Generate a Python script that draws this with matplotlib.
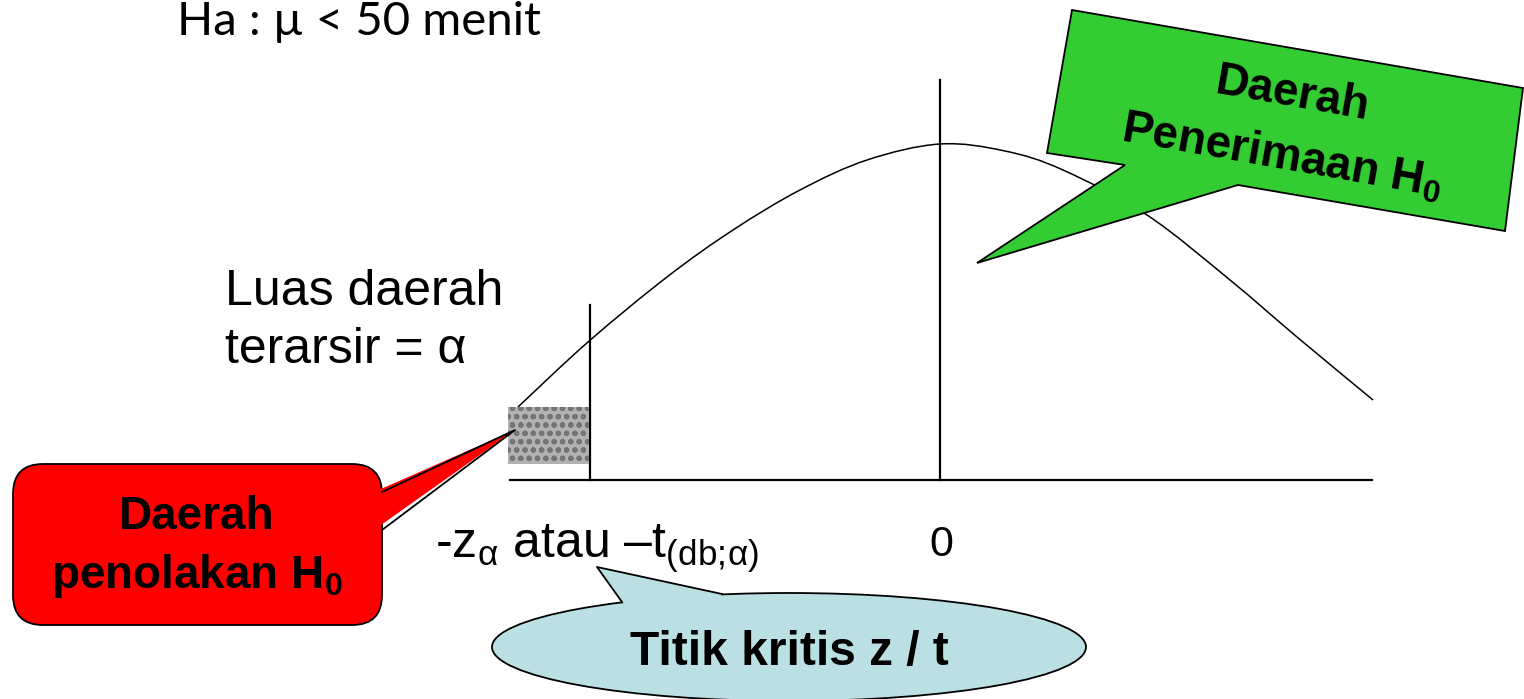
import matplotlib
matplotlib.use("Agg")
import matplotlib.pyplot as plt
from matplotlib.patches import Polygon, FancyBboxPatch, Ellipse, Rectangle, PathPatch
from matplotlib.path import Path

plt.rcParams['font.family'] = ['Liberation Sans', 'DejaVu Sans']
plt.rcParams['mathtext.fontset'] = 'custom'
plt.rcParams['mathtext.rm'] = 'Liberation Sans'
plt.rcParams['mathtext.bf'] = 'Liberation Sans:bold'
plt.rcParams['mathtext.default'] = 'regular'
plt.rcParams['hatch.linewidth'] = 1.5

# ===== данные (координаты в пикселях картинки, y вниз) =====
curve_x = [518, 588, 667, 733, 800, 867, 940, 1005, 1063, 1147, 1230, 1297, 1373]
curve_y = [407, 342, 277, 230, 190, 160, 144, 151, 170, 215, 280, 337, 400]

base_x = [510, 1372]
base_y = 480
zero_x = 940
zero_top = 80
crit_x = 590
crit_top = 305
shade = (508, 407, 81, 57)   # x, y, w, h

top_text = "Ha : µ < 50 menit"
area_text = ["Luas daerah", "terarsir = α"]
crit_label = r"-z$_{α}$ atau –t$_{(db;\!α)}$"
zero_label = "0"
reject_text = ["Daerah", r"penolakan H$_\mathbf{0}$"]
accept_text = ["Daerah", r"Penerimaan H$_\mathbf{0}$"]
point_text = "Titik kritis z / t"

green_poly = [(1072, 10), (1523, 88), (1505, 231), (1238, 185),
              (977, 263), (1125, 165), (1047, 153)]

# ===== рисунок =====
fig = plt.figure(figsize=(15.24, 6.99), dpi=100)
ax = fig.add_axes([0, 0, 1, 1])
ax.set_xlim(0, 1524)
ax.set_ylim(699, 0)
ax.axis('off')

# гладкая кривая через точки (безье, касательные как у Catmull-Rom)
pts = list(zip(curve_x, curve_y))
verts = [pts[0]]
codes = [Path.MOVETO]
for i in range(len(pts) - 1):
    p0 = pts[max(i - 1, 0)]
    p1 = pts[i]
    p2 = pts[i + 1]
    p3 = pts[min(i + 2, len(pts) - 1)]
    c1 = (p1[0] + (p2[0] - p0[0]) / 6, p1[1] + (p2[1] - p0[1]) / 6)
    c2 = (p2[0] - (p3[0] - p1[0]) / 6, p2[1] - (p3[1] - p1[1]) / 6)
    verts += [c1, c2, p2]
    codes += [Path.CURVE4] * 3
ax.add_patch(PathPatch(Path(verts, codes), facecolor='none',
                       edgecolor='black', lw=1.1, zorder=2))

ax.plot(base_x, [base_y, base_y], color='black', lw=1.6, zorder=2)
ax.plot([zero_x, zero_x], [zero_top, base_y], color='black', lw=1.6, zorder=2)
ax.plot([crit_x, crit_x], [crit_top, base_y], color='black', lw=1.6, zorder=2)

# заштрихованная область
ax.add_patch(Rectangle(shade[:2], shade[2], shade[3], facecolor='#b2b2b2',
                       edgecolor='#747474', hatch='oo', lw=0, zorder=3))

# тексты
ax.text(177, 35, top_text, fontsize=34, family=['Lato', 'DejaVu Sans'],
        va='baseline', ha='left')
ax.text(225, 305, area_text[0], fontsize=36, va='baseline', ha='left')
ax.text(225, 363, area_text[1], fontsize=36, va='baseline', ha='left')
ax.text(435, 558, crit_label, fontsize=36, va='baseline', ha='left')
ax.text(941, 556, zero_label, fontsize=31, va='baseline', ha='center')

# красная выноска
ax.add_patch(FancyBboxPatch((43, 494), 309, 101,
                            boxstyle="round,pad=30,rounding_size=30",
                            facecolor='#ff0000', edgecolor='black', lw=1.3, zorder=4))
ax.add_patch(Polygon([(374, 492), (515, 430), (374, 530)], closed=True,
                     facecolor='#ff0000', edgecolor='none', zorder=5))
ax.plot([382, 515, 382], [492, 430, 530], color='black', lw=1.3, zorder=5)
ax.text(197, 529, reject_text[0], fontsize=33, weight='bold',
        ha='center', va='baseline', zorder=6)
ax.text(197, 588, reject_text[1], fontsize=33, weight='bold',
        ha='center', va='baseline', zorder=6)

# зелёная выноска
ax.add_patch(Polygon(green_poly, closed=True, facecolor='#33cc33',
                     edgecolor='black', lw=1.3, zorder=4))
ax.text(1293, 95, accept_text[0], fontsize=33, weight='bold', rotation=-10,
        rotation_mode='anchor', ha='center', va='center', zorder=6)
ax.text(1282, 156, accept_text[1], fontsize=33, weight='bold', rotation=-10,
        rotation_mode='anchor', ha='center', va='center', zorder=6)

# голубая выноска
ax.add_patch(Ellipse((789, 647), 594, 108, facecolor='#bbe0e3',
                     edgecolor='black', lw=1.3, zorder=4))
ax.add_patch(Polygon([(597, 567), (622, 602), (640, 615), (710, 612), (722, 594)],
                     closed=True, facecolor='#bbe0e3', edgecolor='none', zorder=5))
ax.plot([622, 597, 722], [602, 567, 594], color='black', lw=1.3, zorder=5)
ax.text(789, 665, point_text, fontsize=34.5, weight='bold',
        ha='center', va='baseline', zorder=6)

fig.savefig("out.png", dpi=100)
